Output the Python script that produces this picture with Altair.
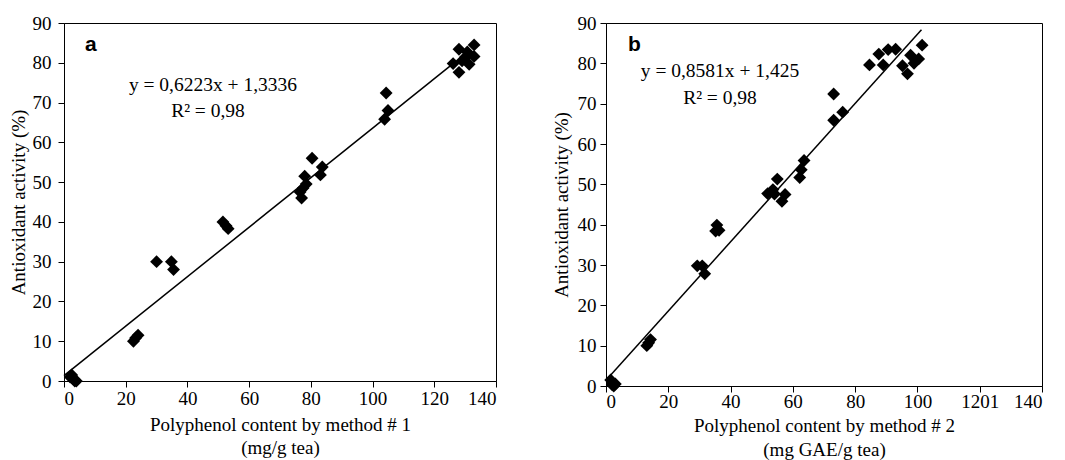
import altair as alt
import pandas as pd

# ---- Panel a data (method #1) ----
a_x = [2.0, 2.5, 3.0, 3.5, 4.0,
       22.5, 23.2, 24.0,
       30.0, 34.8, 35.5,
       51.5, 52.5, 53.2,
       76.5, 77.0, 77.5, 78.0, 78.5,
       80.4, 83.1, 83.7,
       104.4, 103.9, 105.0,
       128.0, 132.9, 132.9, 131.3, 128.0, 126.1, 130.2, 130.7, 129.0]
a_y = [1.0, 1.5, 0.5, 0.0, 0.0,
       10.0, 10.8, 11.5,
       30.0, 30.0, 28.0,
       40.0, 39.0, 38.3,
       47.5, 46.0, 48.5, 51.5, 49.5,
       56.0, 51.8, 53.8,
       72.4, 65.8, 68.0,
       83.4, 84.5, 81.6, 79.6, 77.6, 79.8, 81.5, 82.7, 80.5]

# ---- Panel b data (method #2) ----
b_x = [1.5, 2.0, 2.5, 2.0, 3.0,
       13.1, 13.7, 14.3,
       29.3, 30.9, 31.7,
       35.6, 35.2, 36.3,
       51.9, 53.6, 55.0, 54.1, 56.5, 57.5,
       62.2, 62.7, 63.6,
       73.1, 73.1, 76.0,
       84.6, 87.6, 89.0, 90.6, 93.0, 95.2, 96.8, 97.8, 100.4, 101.5, 98.9]
b_y = [1.5, 0.8, 0.0, 0.3, 0.5,
       10.0, 10.7, 11.5,
       29.8, 29.8, 27.8,
       39.9, 38.4, 38.6,
       47.7, 48.7, 51.3, 47.6, 45.8, 47.5,
       51.7, 53.6, 55.9,
       72.4, 65.9, 67.9,
       79.6, 82.3, 79.6, 83.4, 83.5, 79.4, 77.4, 82.0, 81.1, 84.5, 80.0]

# regression fits (slope, intercept) and drawn x ranges
fit_a = (0.6223, 1.3336)
fit_a_range = [0.0, 127.0]
fit_b = (0.8581, 1.425)
fit_b_range = [0.0, 101.3]

eq_a = ["y = 0,6223x + 1,3336", "R² = 0,98"]
eq_b = ["y = 0,8581x + 1,425", "R² = 0,98"]

x_ticks = [0, 20, 40, 60, 80, 100, 120, 140]
y_ticks = [0, 10, 20, 30, 40, 50, 60, 70, 80, 90]

SERIF = "Liberation Serif"


def panel(xs, ys, fit, frange, eq, letter, w, h, xtitle, ytitle,
          eq_pos, letter_pos, y_lpad, x_lpad, y_tpad, x_tpad, x_lh, label_expr=None):
    pts = pd.DataFrame({"x": xs, "y": ys})
    line = pd.DataFrame({"x": frange, "y": [fit[0] * v + fit[1] for v in frange]})
    xaxis_kw = dict(values=x_ticks, title=xtitle, labelPadding=x_lpad,
                    titlePadding=x_tpad, titleLineHeight=x_lh, labelOverlap=False)
    if label_expr:
        xaxis_kw["labelExpr"] = label_expr
    xs_ = alt.X("x:Q", scale=alt.Scale(domain=[0, 140], nice=False),
                axis=alt.Axis(**xaxis_kw))
    ys_ = alt.Y("y:Q", scale=alt.Scale(domain=[0, 90], nice=False),
                axis=alt.Axis(values=y_ticks, title=ytitle, labelPadding=y_lpad,
                              titlePadding=y_tpad, labelOverlap=False))
    line_layer = alt.Chart(line).mark_line(color="black", strokeWidth=1.5).encode(x=xs_, y=ys_)
    pts_layer = alt.Chart(pts).mark_point(shape="diamond", filled=True, color="black",
                                          size=165, opacity=1).encode(x=xs_, y=ys_)
    one = pd.DataFrame({"k": [0]})
    t1 = alt.Chart(one).mark_text(font=SERIF, fontSize=19.5, align="center",
                                  baseline="alphabetic", color="black").encode(
        x=alt.value(eq_pos[0]), y=alt.value(eq_pos[1]), text=alt.value(eq[0]))
    t2 = alt.Chart(one).mark_text(font=SERIF, fontSize=19.5, align="center",
                                  baseline="alphabetic", color="black").encode(
        x=alt.value(eq_pos[2]), y=alt.value(eq_pos[3]), text=alt.value(eq[1]))
    t3 = alt.Chart(one).mark_text(font="Liberation Sans", fontSize=21, fontWeight="bold",
                                  align="left", baseline="alphabetic", color="black").encode(
        x=alt.value(letter_pos[0]), y=alt.value(letter_pos[1]), text=alt.value(letter))
    return alt.layer(line_layer, pts_layer, t1, t2, t3).properties(width=w, height=h)


pa = panel(a_x, a_y, fit_a, fit_a_range, eq_a, "a", 432, 358,
           ["Polyphenol content by method # 1", "(mg/g tea)"], "Antioxidant activity (%)",
           (149, 68, 144, 94), (21, 28), 7, 2, 4, 7, 23)
pb = panel(b_x, b_y, fit_b, fit_b_range, eq_b, "b", 436, 363,
           ["Polyphenol content by method # 2", "(mg GAE/g tea)"], "Antioxidant activity (%)",
           (114, 54, 114, 81), (22, 28), 4, 0, 6, 5, 24,
           label_expr="datum.value == 120 ? '1201' : datum.label")

chart = alt.hconcat(pa, pb, spacing=54).properties(
    padding={"left": 0, "top": 5, "right": 0, "bottom": 0}
).configure_view(stroke="black", strokeWidth=1).configure_axis(
    grid=False, domainColor="black", domainWidth=1, tickColor="black", tickSize=6,
    labelColor="black", titleColor="black", labelFont=SERIF, titleFont=SERIF,
    labelFontSize=19, titleFontSize=19, titleFontWeight="normal"
)

chart.save("out.html", embed_options={"renderer": "svg", "actions": False})
